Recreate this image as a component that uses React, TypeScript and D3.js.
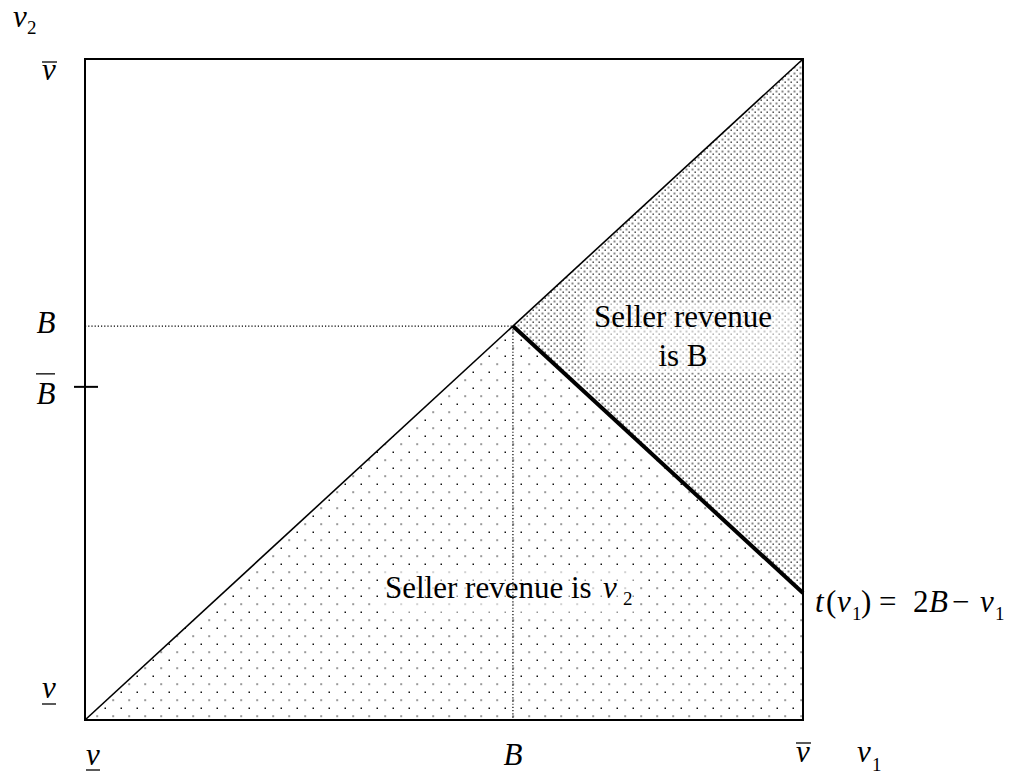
import React from 'react';
import * as d3 from 'd3';

// values on a 0..1 scale: v_ (low), B, v-bar (high)
const valueRange = [0, 1];
const breakValues = [0, 0.596, 1];
const bBarValue = [0.504];

const width = 1011;
const height = 775;
const plot = { left: 85, right: 803, top: 59, bottom: 720 };
const serif = 'Liberation Serif';

type LabelProps = { x: number; y: number; it?: boolean; size?: number; anchor?: string; children: React.ReactNode };
const Label = ({ x, y, it, size = 31, anchor = 'start', children }: LabelProps) => (
    <text x={x} y={y} fontFamily={serif} style={{ fontFamily: serif }} fontSize={size}
        fontStyle={it ? 'italic' : 'normal'} textAnchor={anchor} fill="#000">{children}</text>
);

const App = () => {
    const x = d3.scaleLinear().domain(valueRange).range([plot.left, plot.right]);
    const y = d3.scaleLinear().domain(valueRange).range([plot.bottom, plot.top]);
    const [lo, B, hi] = breakValues;
    const tEnd = 2 * B - hi;

    const line = d3.line<number[]>().x(d => x(d[0])).y(d => y(d[1]));
    const lowerRegion = [[lo, lo], [B, B], [hi, tEnd], [hi, lo]];
    const upperRegion = [[B, B], [hi, hi], [hi, tEnd]];

    return (
        <svg width={width} height={height} style={{ position: 'absolute', left: 0, top: 0, background: '#fff' }}>
            <defs>
                <pattern id="sparse" patternUnits="userSpaceOnUse" width={16} height={16} x={plot.left} y={plot.bottom}>
                    <rect x={3.5} y={3.5} width={1.5} height={1.5} fill="#111" />
                    <rect x={11.2} y={11.2} width={2} height={2} fill="#999" />
                </pattern>
                <pattern id="dense" patternUnits="userSpaceOnUse" width={6} height={6} x={plot.left} y={plot.bottom}>
                    <rect x={0.5} y={0.5} width={2} height={2} fill="#8a8a8a" />
                    <rect x={3.5} y={3.5} width={1.4} height={1.4} fill="#333" />
                </pattern>
            </defs>

            <path d={line(lowerRegion) + 'Z'} fill="url(#sparse)" />
            <path d={line(upperRegion) + 'Z'} fill="url(#dense)" />

            {/* lightened text boxes */}
            <rect x={585} y={303} width={210} height={70} fill="#fff" opacity={0.55} />
            <rect x={378} y={568} width={262} height={46} fill="#fff" opacity={0.55} />

            {/* dotted guides at B */}
            <line x1={x(lo)} x2={x(B)} y1={y(B)} y2={y(B)} stroke="#000" strokeWidth={1.2} strokeDasharray="1.2,2" />
            <line x1={x(B)} x2={x(B)} y1={y(B)} y2={y(lo)} stroke="#000" strokeWidth={1.2} strokeDasharray="1.2,2" />

            {/* diagonal v2 = v1 */}
            <path d={line([[lo, lo], [hi, hi]]) ?? ''} stroke="#000" strokeWidth={1.6} fill="none" />
            {/* t(v1) = 2B - v1 */}
            <path d={line([[B, B], [hi, tEnd]]) ?? ''} stroke="#000" strokeWidth={4} fill="none" />

            <rect x={plot.left} y={plot.top} width={plot.right - plot.left} height={plot.bottom - plot.top}
                fill="none" stroke="#000" strokeWidth={2} />

            {/* B-bar tick */}
            {bBarValue.map(v => (
                <line key={v} x1={plot.left - 11} x2={plot.left + 13} y1={y(v)} y2={y(v)} stroke="#000" strokeWidth={2} />
            ))}

            {/* y axis labels */}
            <Label x={13} y={27} it>v</Label>
            <Label x={27} y={34} size={19}>2</Label>

            <Label x={49} y={y(hi) + 21} it anchor="middle">v</Label>
            <line x1={42} x2={57} y1={y(hi) + 3} y2={y(hi) + 3} stroke="#000" strokeWidth={1.3} />

            <Label x={46} y={y(B) + 7} it anchor="middle">B</Label>
            <Label x={46} y={y(bBarValue[0]) + 17} it anchor="middle">B</Label>
            <line x1={36} x2={55} y1={y(bBarValue[0]) - 13} y2={y(bBarValue[0]) - 13} stroke="#000" strokeWidth={1.3} />

            <Label x={49} y={y(lo) - 22} it anchor="middle">v</Label>
            <line x1={42} x2={56} y1={y(lo) - 16} y2={y(lo) - 16} stroke="#000" strokeWidth={1.3} />

            {/* x axis labels */}
            <Label x={x(lo) + 8} y={765} it anchor="middle">v</Label>
            <line x1={x(lo) + 1} x2={x(lo) + 15} y1={770} y2={770} stroke="#000" strokeWidth={1.3} />

            <Label x={x(B)} y={765} it anchor="middle">B</Label>

            <Label x={x(hi)} y={762} it anchor="middle">v</Label>
            <line x1={x(hi) - 7} x2={x(hi) + 8} y1={743} y2={743} stroke="#000" strokeWidth={1.3} />

            <Label x={857} y={762} it>v</Label>
            <Label x={872} y={771} size={19}>1</Label>

            {/* region captions */}
            <Label x={683} y={327} anchor="middle">Seller revenue</Label>
            <Label x={683} y={366} anchor="middle">is B</Label>

            <Label x={385} y={598}>Seller revenue is</Label>
            <Label x={603} y={598} it>v</Label>
            <Label x={623} y={605} size={19}>2</Label>

            {/* boundary equation */}
            <Label x={815} y={612} it>t</Label>
            <Label x={826} y={612}>(</Label>
            <Label x={837} y={612} it>v</Label>
            <Label x={852} y={620} size={19}>1</Label>
            <Label x={861} y={612}>)</Label>
            <Label x={879} y={612}>=</Label>
            <Label x={913} y={612}>2</Label>
            <Label x={929} y={612} it>B</Label>
            <Label x={952} y={612}>−</Label>
            <Label x={980} y={612} it>v</Label>
            <Label x={995} y={620} size={19}>1</Label>
        </svg>
    );
};

export default App;
